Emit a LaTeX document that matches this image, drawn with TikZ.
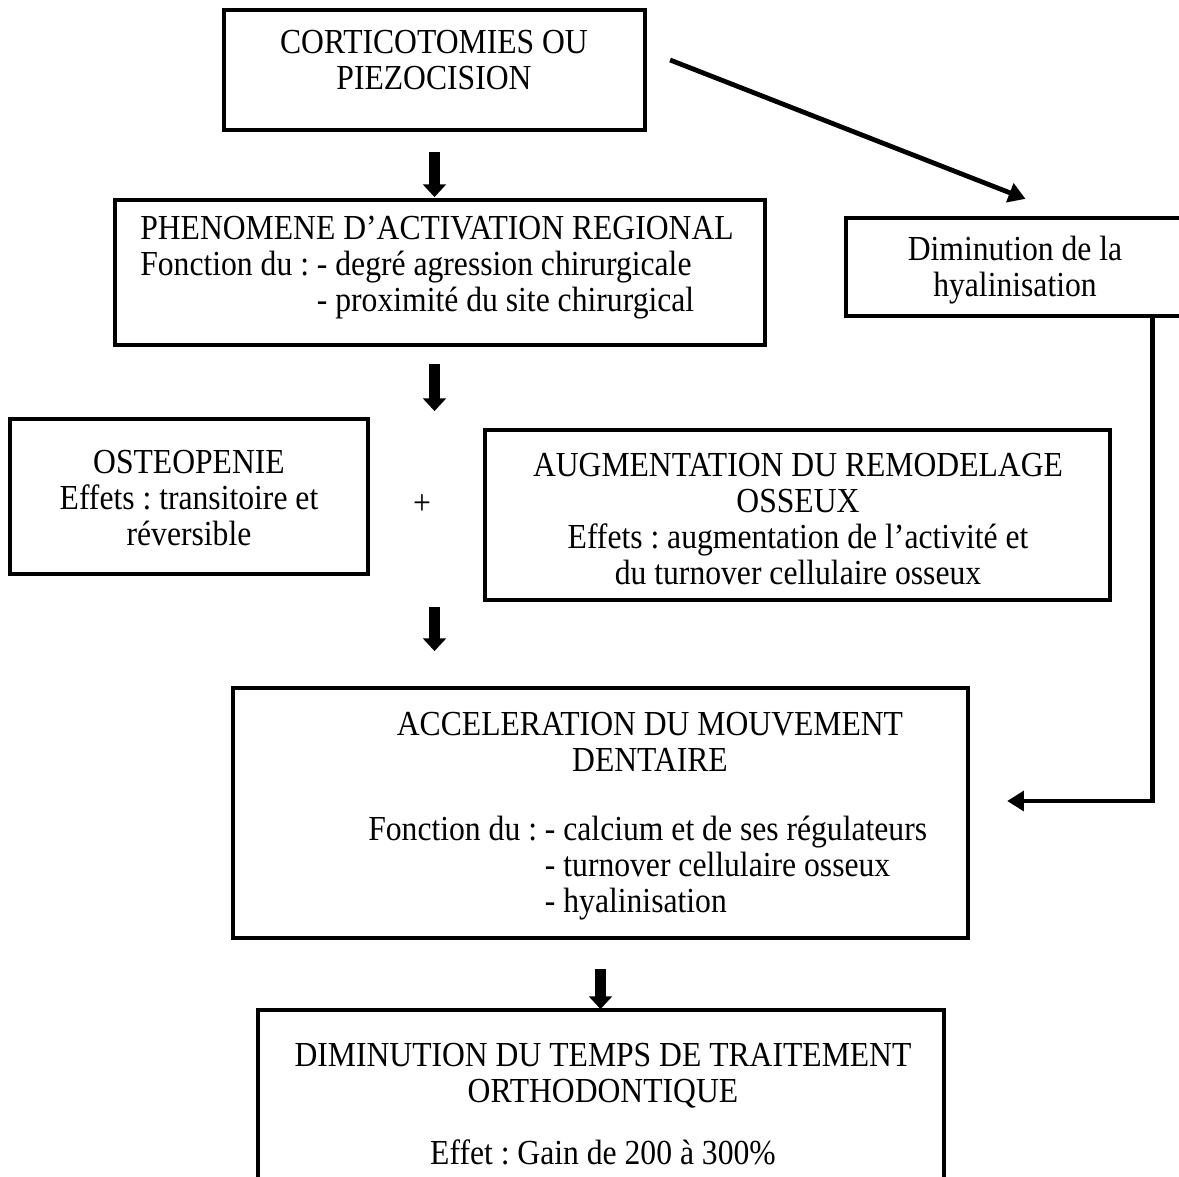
\documentclass[tikz,border=0pt]{standalone}
\usepackage{fontspec}
\setmainfont{Liberation Serif}[FakeStretch=0.9]
\usetikzlibrary{arrows.meta,fit,calc}
\frenchspacing

\begin{document}
\begin{tikzpicture}[x=0.025cm, y=-0.025cm,
  box/.style={draw, line width=3pt, inner sep=0pt},
  txt/.style={inner sep=0pt, align=center, font=\fontsize{25}{25.6}\selectfont},
  blockarrow/.style={line width=7.8pt, -{Triangle[width=16pt, length=9pt]}},
  thinarrow/.style={line width=3.4pt, -{Triangle[width=14pt, length=12pt]}}]

  \useasboundingbox (0,0) rectangle (1179,1177);
  \clip (0,0) rectangle (1179,1177);

  \node[box, fit={(224,10) (645,130)}] (corti) {};
  \node[box, fit={(115,200) (765,345)}] (phenom) {};
  \node[box, fit={(846,218) (1185,316)}] (hyal) {};
  \node[box, fit={(10,419) (368,574)}] (osteo) {};
  \node[box, fit={(485,430) (1110,600)}] (remod) {};
  \node[box, fit={(233,688) (968,938)}] (accel) {};
  \node[box, fit={(258,1010) (944,1230)}] (dimin) {};

  \node[txt] (cortitxt) at (434,60) {CORTICOTOMIES OU\\PIEZOCISION};
  \node[txt, align=left, anchor=west] (phenomtxt) at (140,268)
    {PHENOMENE D’ACTIVATION REGIONAL\\Fonction du : - degré agression chirurgicale\\\phantom{Fonction du :} - proximité du site chirurgical};
  \node[txt] (hyaltxt) at (1015,270) {Diminution de la\\hyalinisation};
  \node[txt] (osteotxt) at (189,498) {OSTEOPENIE\\Effets : transitoire et\\réversible};
  \node[txt] (plus) at (422,505) {+};
  \node[txt] (remodtxt) at (798,519) {AUGMENTATION DU REMODELAGE\\OSSEUX\\Effets : augmentation de l’activité et\\du turnover cellulaire osseux};
  \node[txt] (acceltitle) at (650,742) {ACCELERATION DU MOUVEMENT\\DENTAIRE};
  \node[txt, align=left, anchor=west] (accelfn) at (368,868)
    {Fonction du : - calcium et de ses régulateurs\\\phantom{Fonction du :} - turnover cellulaire osseux\\\phantom{Fonction du :} - hyalinisation};
  \node[txt] (dimintitle) at (603,1076) {DIMINUTION DU TEMPS DE TRAITEMENT\\ORTHODONTIQUE};
  \node[txt] (diminfx) at (603,1152) {Effet : Gain de 200 à 300\%};

  \draw[blockarrow] (corti.south) ++(0,20) -- ++(0,45);
  \draw[blockarrow] (phenom.south -| corti.south) ++(0,17) -- ++(0,47);
  \draw[blockarrow] (remod.south -| corti.south) ++(0,5) -- ++(0,44);
  \draw[blockarrow] (accel.south) ++(0,29) -- ++(0,40);

  \draw[thinarrow] ($(corti.east)+(23,-10)$) -- ($(hyal.north)+(10,-17)$);
  \draw[thinarrow, line cap=round] ($(hyal.south east)+(-35,0)$) |- ($(accel.east)+(37,-12)$);

\end{tikzpicture}
\end{document}
